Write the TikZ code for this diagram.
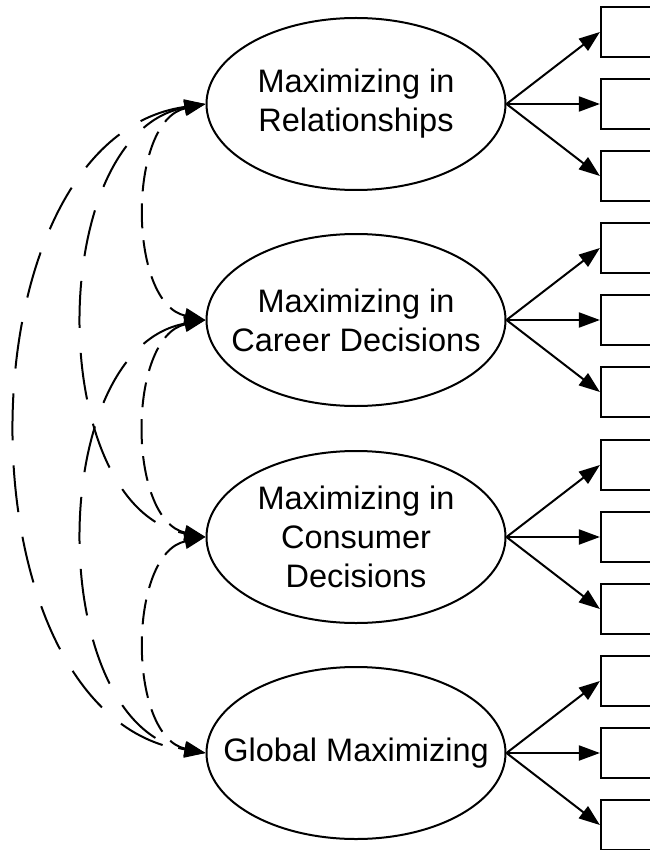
\documentclass[tikz,border=0pt]{standalone}
\usepackage{fontspec}
\setmainfont{Liberation Sans}
\usetikzlibrary{shapes.geometric, arrows.meta}

\begin{document}
\begin{tikzpicture}[x=1pt, y=-1pt,
    >={Triangle[length=21pt, width=15pt]},
    factor/.style={draw, ellipse, line width=2pt, minimum width=299pt, minimum height=172pt,
      inner xsep=-40pt, inner ysep=0pt, align=center, font=\fontsize{32.5}{39}\selectfont},
    item/.style={draw, rectangle, line width=2.2pt, minimum width=60pt, minimum height=50pt, inner sep=0pt},
    load/.style={->, line width=2pt},
    cov/.style={<->, line width=2pt, dash pattern=on 25pt off 12pt},
    covlong/.style={cov, dash pattern=on 47pt off 25pt}]
        \useasboundingbox (0,0) rectangle (649,850);

        % 因子
        \node[factor] (rel) at (356,104) {Maximizing in\\Relationships};
        \node[factor] (car) at (356,320) {Maximizing in\\Career Decisions};
        \node[factor] (con) at (356,537) {Maximizing in\\Consumer\\Decisions};
        \node[factor] (glo) at (356,753) {Global Maximizing};

        % 観測変数と因子負荷
        \foreach \f in {rel,car,con,glo} {
          \foreach \k/\dy in {1/-72,2/0,3/72} {
            \node[item] (\f\k) at ([shift={(275,\dy)}]\f) {};
            \draw[load] (\f.east) -- (\f\k.west);
          }
        }

        % 因子間の共分散
        \draw[cov] (rel.west) to[out=192, in=168, looseness=0.95] (car.west);
        \draw[cov] (car.west) to[out=192, in=168, looseness=0.95] (con.west);
        \draw[cov] (con.west) to[out=192, in=168, looseness=0.95] (glo.west);
        \draw[covlong] (rel.west) to[out=190, in=170, looseness=0.97] (con.west);
        \draw[covlong] (car.west) to[out=190, in=170, looseness=0.97] (glo.west);
        \draw[covlong] (rel.west) to[out=188, in=172, looseness=1] (glo.west);
      \end{tikzpicture}
\end{document}
